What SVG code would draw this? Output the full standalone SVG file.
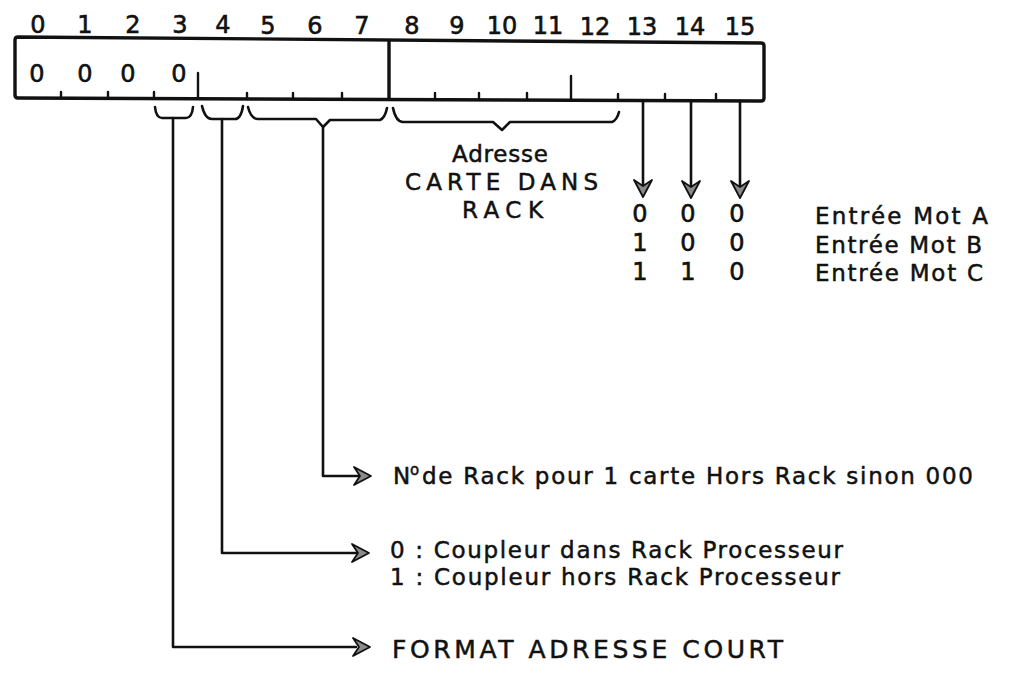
<svg xmlns="http://www.w3.org/2000/svg" width="1010" height="675" viewBox="0 0 1010 675">
<style>
.ln{fill:none;stroke:#111;stroke-width:2.6;stroke-linecap:round;stroke-linejoin:round}
.box{fill:none;stroke:#111;stroke-width:3.4;stroke-linejoin:round}
.tk{fill:none;stroke:#111;stroke-width:2.4;stroke-linecap:round}
.ah{fill:#8a8a8a;stroke:#111;stroke-width:1.8;stroke-linejoin:round}
.t{font-family:"DejaVu Sans","Liberation Sans",sans-serif;fill:#111;stroke:#111;stroke-width:0.5;font-size:23px}
.n{font-family:"DejaVu Sans","Liberation Sans",sans-serif;fill:#111;stroke:#111;stroke-width:0.6;font-size:24px;text-anchor:middle}
</style>
<defs>
<path id="ah" class="ah" d="M0,0 L-17,-9 L-11,0 L-17,9 Z"/>
</defs>
<rect width="1010" height="675" fill="#fff"/>

<g id="bit-numbers" class="n">
<text x="38" y="33">0</text><text x="85" y="33">1</text><text x="133" y="33">2</text><text x="180" y="33">3</text>
<text x="223" y="33">4</text><text x="268" y="34">5</text><text x="315" y="34">6</text><text x="362" y="34">7</text>
<text x="412" y="34">8</text><text x="457" y="34">9</text><text x="502" y="34">10</text><text x="548" y="34">11</text>
<text x="595" y="35">12</text><text x="642" y="35">13</text><text x="690" y="35">14</text><text x="740" y="35">15</text>
</g>

<g id="register">
<path class="box" d="M18,37 L761,43 Q764,43 764,46 L764,98 Q764,101 761,101 L18,98 Q15,98 15,95 L15,40 Q15,37 18,37 Z"/>
<path class="box" d="M389,40 V99"/>
<g class="tk">
<path d="M61,98 v-6"/><path d="M108,98 v-6"/><path d="M154,98 v-6"/><path d="M198,98 V73"/>
<path d="M247,99 v-6"/><path d="M293,99 v-6"/><path d="M342,99 v-6"/>
<path d="M435,99 v-6"/><path d="M479,99 v-6"/><path d="M527,99 v-6"/><path d="M571,100 V76"/>
<path d="M618,100 v-6"/><path d="M665,100 v-6"/><path d="M716,100 v-6"/>
</g>
<g class="n"><text x="37" y="82">0</text><text x="85" y="82">0</text><text x="128" y="82">0</text><text x="179" y="82">0</text></g>
</g>

<g id="braces" class="ln">
<path d="M155,107 Q156,118 162,118 L186,118 Q192,118 193,107"/>
<path d="M202,106 Q205,119 212,119 L235,119 Q241,119 243,106"/>
<path d="M248,107 Q251,119 258,119 L316,119 L323,127 L330,120 L380,120 Q385,118 387,108"/>
<path d="M393,108 Q396,122 403,122 L493,122 L502,130 L510,122 L612,122 Q617,120 619,112"/>
</g>

<g id="connectors">
<path class="ln" d="M173,118 V647 H356"/>
<path class="ln" d="M222,119 V553 H356"/>
<path class="ln" d="M323,127 V476 H358"/>
<path class="ln" d="M643,101 V186"/>
<path class="ln" d="M691,101 V186"/>
<path class="ln" d="M740,101 V186"/>
<use href="#ah" transform="translate(370,647)"/>
<use href="#ah" transform="translate(369,553)"/>
<use href="#ah" transform="translate(371,476)"/>
<use href="#ah" transform="translate(643,197) rotate(90)"/>
<use href="#ah" transform="translate(691,198) rotate(90)"/>
<use href="#ah" transform="translate(740,198) rotate(90)"/>
</g>

<g id="adresse-label" class="t">
<text x="452" y="162" textLength="96" lengthAdjust="spacing">Adresse</text>
<text x="405" y="190" textLength="193" lengthAdjust="spacing">CARTE DANS</text>
<text x="462" y="218" textLength="81" lengthAdjust="spacing">RACK</text>
</g>

<g id="truth-table" class="n">
<text x="640" y="222">0</text><text x="688" y="222">0</text><text x="737" y="222">0</text>
<text x="640" y="251">1</text><text x="688" y="251">0</text><text x="737" y="251">0</text>
<text x="640" y="280">1</text><text x="688" y="280">1</text><text x="737" y="280">0</text>
</g>

<g id="entree-labels" class="t">
<text x="815" y="224" textLength="173" lengthAdjust="spacing">Entrée Mot A</text>
<text x="815" y="253" textLength="167" lengthAdjust="spacing">Entrée Mot B</text>
<text x="815" y="281" textLength="168" lengthAdjust="spacing">Entrée Mot C</text>
</g>

<g id="rack-label" class="t">
<text x="393" y="484">N</text>
<text x="410" y="475" style="font-size:15px">o</text>
<text x="422" y="484" textLength="551" lengthAdjust="spacing">de Rack pour 1 carte Hors Rack sinon 000</text>
</g>

<g id="coupleur-label" class="t">
<text x="390" y="558" textLength="453" lengthAdjust="spacing">0  :  Coupleur dans Rack Processeur</text>
<text x="390" y="585" textLength="450" lengthAdjust="spacing">1  :  Coupleur hors Rack Processeur</text>
</g>

<g id="format-label" class="t" style="font-size:25px">
<text x="392" y="658" textLength="391" lengthAdjust="spacing">FORMAT ADRESSE COURT</text>
</g>
</svg>
